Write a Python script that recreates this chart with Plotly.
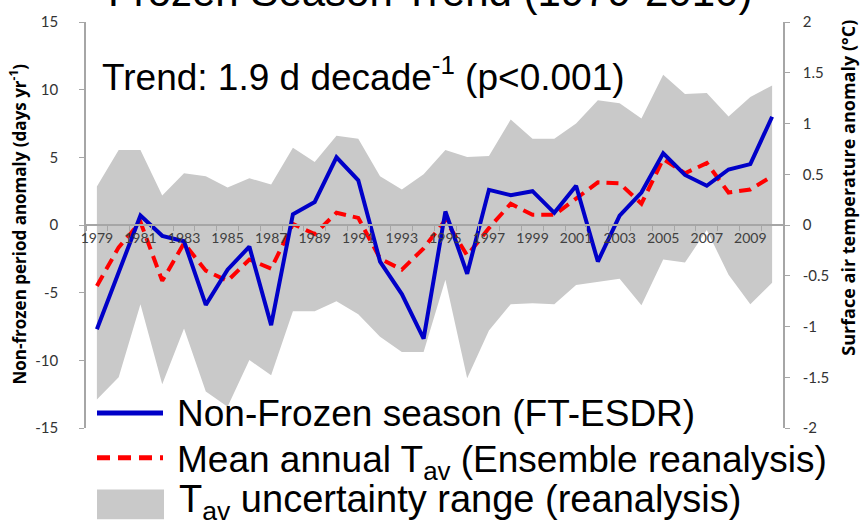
import plotly.graph_objects as go

years = [1979, 1980, 1981, 1982, 1983, 1984, 1985, 1986, 1987, 1988, 1989,
         1990, 1991, 1992, 1993, 1994, 1995, 1996, 1997, 1998, 1999, 2000,
         2001, 2002, 2003, 2004, 2005, 2006, 2007, 2008, 2009, 2010]

# Non-frozen season anomaly (days/yr), left axis
nonfrozen = [-7.7, -3.5, 0.7, -0.8, -1.2, -5.9, -3.3, -1.6, -7.4, 0.8, 1.7,
             5.0, 3.3, -2.7, -5.1, -8.4, 1.0, -3.6, 2.6, 2.2, 2.5, 0.9,
             2.9, -2.7, 0.7, 2.4, 5.3, 3.7, 2.9, 4.1, 4.5, 8.0]

# Mean annual Tav anomaly (deg C), right axis
tav_mean = [-0.60, -0.22, 0.03, -0.55, -0.18, -0.45, -0.55, -0.34, -0.43, 0.01, -0.09,
            0.12, 0.07, -0.33, -0.44, -0.23, 0.05, -0.30, -0.03, 0.21, 0.10, 0.10,
            0.26, 0.42, 0.41, 0.21, 0.65, 0.51, 0.61, 0.32, 0.35, 0.48]

# Tav uncertainty range (deg C), right axis
tav_upper = [0.38, 0.74, 0.74, 0.29, 0.51, 0.48, 0.37, 0.46, 0.40, 0.76, 0.62,
             0.88, 0.85, 0.48, 0.35, 0.50, 0.74, 0.67, 0.68, 1.04, 0.85, 0.85,
             1.00, 1.23, 1.20, 1.05, 1.48, 1.29, 1.30, 1.07, 1.26, 1.375]
tav_lower = [-1.72, -1.50, -0.78, -1.57, -1.02, -1.64, -1.79, -1.33, -1.48, -0.85, -0.85,
             -0.75, -0.88, -1.10, -1.25, -1.25, -0.54, -1.51, -1.04, -0.78, -0.77, -0.78,
             -0.59, -0.56, -0.53, -0.79, -0.34, -0.37, -0.05, -0.49, -0.78, -0.57]

year_ticks = [1979, 1981, 1983, 1985, 1987, 1989, 1991, 1993, 1995, 1997, 1999,
              2001, 2003, 2005, 2007, 2009]
year_labels = [str(y) for y in year_ticks]
left_ticks = [-15, -10, -5, 0, 5, 10, 15]
left_labels = ["-15", "-10", "-5", "0", "5", "10", "15"]
right_ticks = [-2, -1.5, -1, -0.5, 0, 0.5, 1, 1.5, 2]
right_labels = ["-2", "-1.5", "-1", "-0.5", "0", "0.5", "1", "1.5", "2"]

GRAY_AX = "#a6a6a6"
TICKFONT = dict(family="Lato", size=15, color="#333333")
BAND = "#c9c9c9"
BLUE = "#0000c8"
RED = "#ff0000"

fig = go.Figure()
fig.add_trace(go.Scatter(x=years, y=tav_lower, mode="lines", line=dict(width=0),
                         yaxis="y", showlegend=False, hoverinfo="skip"))
fig.add_trace(go.Scatter(x=years, y=tav_upper, mode="lines", line=dict(width=0),
                         fill="tonexty", fillcolor=BAND, yaxis="y",
                         showlegend=False, hoverinfo="skip"))
fig.add_trace(go.Scatter(x=years, y=tav_mean, mode="lines",
                         line=dict(color=RED, width=4, dash="12px,7px"),
                         yaxis="y", showlegend=False))
fig.add_trace(go.Scatter(x=years, y=nonfrozen, mode="lines",
                         line=dict(color=BLUE, width=4),
                         yaxis="y2", showlegend=False))

L, R, T, B = 86, 80, 19, 94
W, H = 863, 522
PW, PH = W - L - R, H - T - B


def px_x(px):
    return (px - L) / PW


def px_y(py):
    return (H - B - py) / PH


fig.update_layout(
    width=W, height=H,
    margin=dict(l=L, r=R, t=T, b=B),
    paper_bgcolor="white", plot_bgcolor="white",
    showlegend=False,
    xaxis=dict(range=[1978.5, 2010.5], anchor="free", position=0.5,
               showline=True, linecolor=GRAY_AX, linewidth=1.5,
               tickmode="array", tickvals=year_ticks, ticktext=year_labels,
               ticks="", tickfont=dict(family="Lato", size=14, color="#404040"),
               minor=dict(tickmode="linear", tick0=1978.5, dtick=1, ticks="outside",
                          ticklen=5, tickcolor=GRAY_AX, showgrid=False),
               showgrid=False, zeroline=False, fixedrange=True),
    yaxis=dict(range=[-2, 2], side="right", anchor="x",
               showline=True, linecolor=GRAY_AX, linewidth=1.5,
               ticks="outside", ticklen=5, tickcolor=GRAY_AX,
               tickvals=right_ticks, ticktext=right_labels,
               tickfont=TICKFONT, ticklabelstandoff=10,
               showgrid=False, zeroline=False),
    yaxis2=dict(range=[-15, 15], side="left", overlaying="y", anchor="x",
                showline=True, linecolor=GRAY_AX, linewidth=1.5,
                ticks="outside", ticklen=5, tickcolor=GRAY_AX,
                tickvals=left_ticks, ticktext=left_labels,
                tickfont=TICKFONT, ticklabelstandoff=18,
                showgrid=False, zeroline=False),
)

annotations = [
    dict(text="Frozen Season Trend (1979-2010)", x=px_x(430), y=px_y(-12),
         xanchor="center", yanchor="middle",
         font=dict(family="Liberation Sans", size=42, color="black")),
    dict(text="Trend: 1.9 d decade<sup>-1</sup> (p&lt;0.001)", x=px_x(100), y=px_y(72),
         xanchor="left", yanchor="middle",
         font=dict(family="Liberation Sans", size=37, color="black")),
    dict(text="<b>Non-frozen period anomaly (days yr<sup>-1</sup>)</b>", x=px_x(18), y=px_y(223),
         textangle=-90, xanchor="center", yanchor="middle",
         font=dict(family="Open Sans", size=17, color="black")),
    dict(text="<b>Surface air temperature anomaly (°C)</b>", x=px_x(848), y=px_y(186),
         textangle=-90, xanchor="center", yanchor="middle",
         font=dict(family="Open Sans", size=18, color="black")),
    dict(text="Non-Frozen season (FT-ESDR)", x=px_x(175), y=px_y(413),
         xanchor="left", yanchor="middle",
         font=dict(family="Liberation Sans", size=37, color="black")),
    dict(text="Mean annual T<sub>av</sub> (Ensemble reanalysis)", x=px_x(175), y=px_y(462),
         xanchor="left", yanchor="middle",
         font=dict(family="Liberation Sans", size=37, color="black")),
    dict(text="T<sub>av</sub> uncertainty range (reanalysis)", x=px_x(177), y=px_y(503),
         xanchor="left", yanchor="middle",
         font=dict(family="Liberation Sans", size=38, color="black")),
]
for a in annotations:
    a.update(xref="paper", yref="paper", showarrow=False)
fig.update_layout(annotations=annotations)

shapes = [
    dict(type="line", x0=px_x(97), x1=px_x(163), y0=px_y(413), y1=px_y(413),
         line=dict(color=BLUE, width=5)),
    dict(type="line", x0=px_x(97), x1=px_x(163), y0=px_y(458), y1=px_y(458),
         line=dict(color=RED, width=5, dash="13px,8px")),
    dict(type="rect", x0=px_x(97), x1=px_x(164), y0=px_y(490), y1=px_y(520),
         line=dict(width=0), fillcolor=BAND),
]
for s in shapes:
    s.update(xref="paper", yref="paper")
fig.update_layout(shapes=shapes)

fig.write_html("out.html",
               config={"displayModeBar": False},
               post_script="document.body.style.margin='0';document.body.style.overflow='hidden';")
